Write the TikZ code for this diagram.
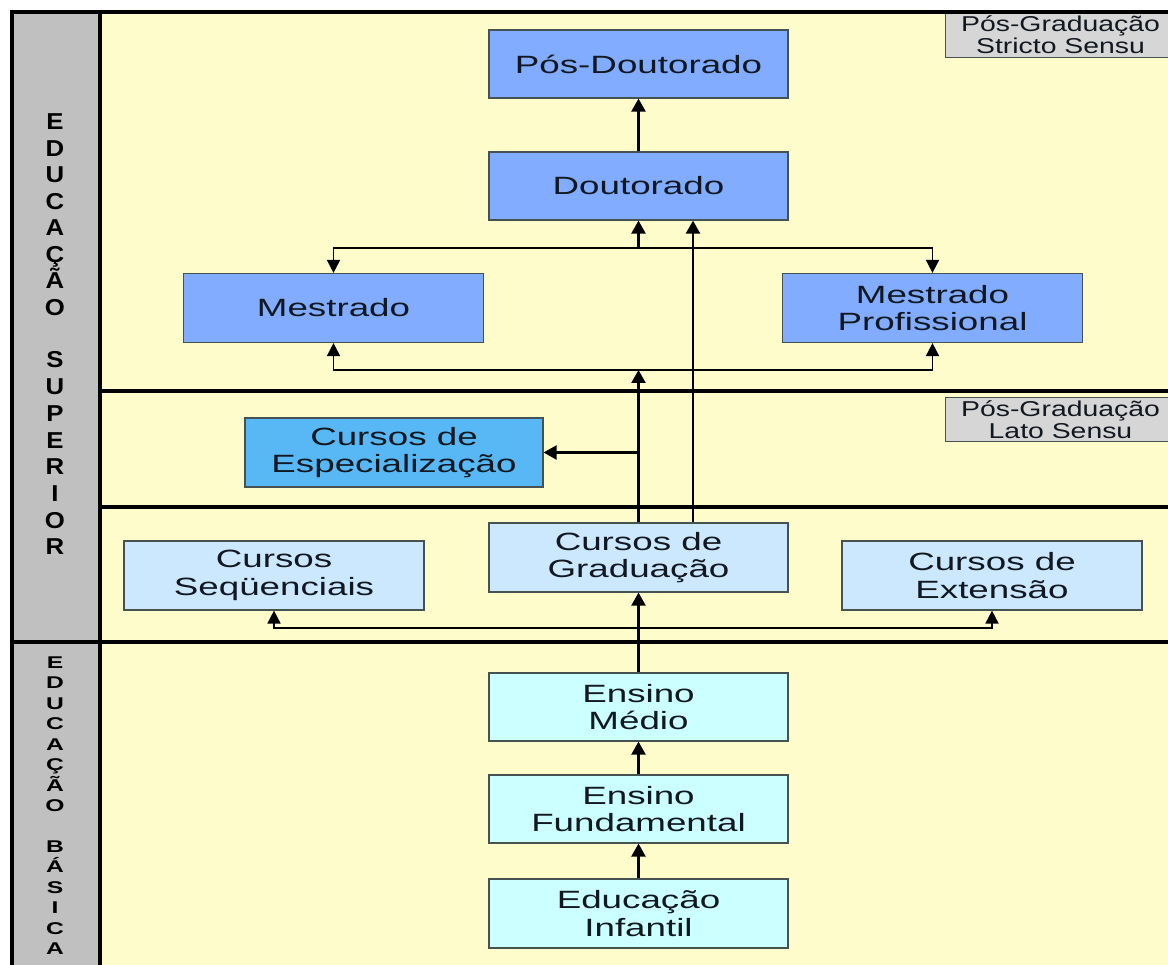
\documentclass[tikz,border=0pt]{standalone}
\usepackage{fontspec}
\setmainfont{Liberation Sans}
\newfontfamily\boxfont[FakeStretch=1.47]{Liberation Sans}
\newfontfamily\lblfont[FakeStretch=1.32]{Liberation Sans}
\newfontfamily\topfont[FakeStretch=1.12]{Liberation Sans}
\newfontfamily\botfont[FakeStretch=1.45]{Liberation Sans}
\usetikzlibrary{arrows.meta}
\definecolor{yellowbg}{RGB}{255,252,204}
\definecolor{graycol}{RGB}{192,192,192}
\definecolor{lblgray}{RGB}{214,214,214}
\definecolor{darkblue}{RGB}{130,172,255}
\definecolor{midblue}{RGB}{88,184,245}
\definecolor{lightblue}{RGB}{204,232,255}
\definecolor{lightcyan}{RGB}{204,255,255}
\definecolor{boxline}{RGB}{70,82,82}
\definecolor{txt}{RGB}{18,24,32}
\tikzset{
  box/.style={draw=boxline, line width=1.2pt, minimum width=299pt, minimum height=68pt,
    inner sep=0pt, align=center, text=txt, font=\boxfont\fontsize{25}{27.5}\selectfont},
  lbl/.style={draw=boxline, line width=1pt, fill=lblgray, inner sep=0pt, align=center,
    text=txt, minimum width=230pt, anchor=north west, font=\lblfont\fontsize{21.5}{22}\selectfont},
  sect/.style={line width=3.2pt, black},
  arr/.style={line width=2.3pt, -{Triangle[width=14pt,length=13pt]}},
  dist/.style={line width=1.8pt, {Triangle[width=13pt,length=13pt]}-{Triangle[width=13pt,length=13pt]}},
  toplet/.style={anchor=base, inner sep=0pt, font=\topfont\bfseries\fontsize{23}{23}\selectfont},
  botlet/.style={anchor=base, inner sep=0pt, font=\botfont\bfseries\fontsize{17}{17}\selectfont}
}
\begin{document}
\begin{tikzpicture}[x=1pt,y=-1pt]
\useasboundingbox (0,0) rectangle (1168,965);
\fill[white] (0,0) rectangle (1168,965);
\fill[yellowbg] (100,12) rectangle (1168,965);
\fill[graycol] (12,12) rectangle (100,965);

% labels
\node[lbl, minimum height=45pt] (stricto) at (945,12) {Pós-Graduação\\Stricto Sensu};
\node[lbl, minimum height=44pt] (lato) at (945,397) {Pós-Graduação\\Lato Sensu};

% section lines
\draw[sect] (10,12) -- (1168,12);
\draw[line width=4pt] (12,12) -- (12,965);
\draw[sect] (100,12) -- (100,965);
\draw[sect] (100,391) -- (1168,391);
\draw[sect] (100,507) -- (1168,507);
\draw[sect] (10,642) -- (1168,642);

% boxes
\node[box, fill=darkblue] (PD) at (638.5,64) {Pós-Doutorado};
\node[box, fill=darkblue] (Dout) at (638.5,186) {Doutorado};
\node[box, fill=darkblue, minimum width=300pt, minimum height=69pt] (Mest) at (333.5,308) {Mestrado};
\node[box, fill=darkblue, minimum width=300pt, minimum height=69pt] (MP) at (932.5,308) {Mestrado\\Profissional};
\node[box, fill=midblue, minimum width=298pt, minimum height=69pt] (Esp) at (394,452.5) {Cursos de\\Especialização};
\node[box, fill=lightblue, minimum height=69pt] (Grad) at (638.5,557.5) {Cursos de\\Graduação};
\node[box, fill=lightblue, minimum width=300pt, minimum height=69pt] (Seq) at (274,575.5) {Cursos\\Seqüenciais};
\node[box, fill=lightblue, minimum width=300pt, minimum height=69pt] (Ext) at (992,575.5) {Cursos de\\Extensão};
\node[box, fill=lightcyan] (EM) at (638.5,707) {Ensino\\Médio};
\node[box, fill=lightcyan] (EF) at (638.5,809) {Ensino\\Fundamental};
\node[box, fill=lightcyan, minimum height=69pt] (EI) at (638.5,913.5) {Educação\\Infantil};

% junction coordinates
\coordinate (jd) at (638.5,248);
\coordinate (jm) at (638.5,370);
\coordinate (je) at (638.5,452.5);

% connectors
\draw[arr] (Dout.north) -- (PD.south);
\draw[dist] (Mest.north) -- ++(0,-25) -| (MP.north);
\draw[arr] (jd) -- (Dout.south);
\draw[dist] (Mest.south) -- ++(0,27) -| (MP.south);
\draw[arr] (Grad.north) -- (jm);
\draw[arr] (je) -- (Esp.east);
\draw[arr] ([xshift=54.5pt]Grad.north) -- ([xshift=54.5pt]Dout.south);
\draw[dist] (Seq.south) -- ++(0,17) -| (Ext.south);
\draw[arr] (EM.north) -- (Grad.south);
\draw[arr] (EF.north) -- (EM.south);
\draw[arr] (EI.north) -- (EF.south);

% left column letters
\foreach \l [count=\i from 0] in {E,D,U,C,A,Ç,Ã,O}
  \node[toplet] (ta\i) at (55,130+26.5*\i) {\l};
\foreach \l [count=\i from 0] in {S,U,P,E,R,I,O,R}
  \node[toplet] (tb\i) at (55,368+26.7*\i) {\l};
\foreach \l [count=\i from 0] in {E,D,U,C,A,Ç,Ã,O}
  \node[botlet] (ba\i) at (55,668+20.5*\i) {\l};
\foreach \l [count=\i from 0] in {B,Á,S,I,C,A}
  \node[botlet] (bb\i) at (55,852+20.5*\i) {\l};
\end{tikzpicture}
\end{document}
